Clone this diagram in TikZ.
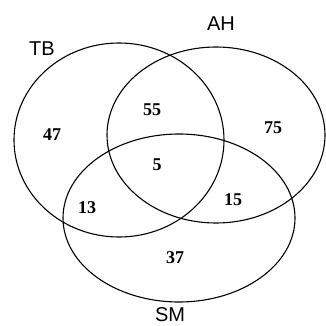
\documentclass[tikz,border=0pt]{standalone}
\usepackage{fontspec}
\setmainfont{Liberation Serif}
\setsansfont{Liberation Sans}
\usepackage{tikz}

\begin{document}
\begin{tikzpicture}[
  x=1pt, y=-1pt,
  set/.style={draw=black, line width=1.1pt},
  setname/.style={font=\sffamily\fontsize{20}{20}\selectfont, inner sep=0pt},
  count/.style={font=\bfseries\fontsize{18}{18}\selectfont, inner sep=0pt}
]
\useasboundingbox (0,0) rectangle (326,326);
% the three sets
\draw[set] (119,140) ellipse [x radius=105, y radius=97];
\draw[set] (216,135) ellipse [x radius=109, y radius=88];
\draw[set] (179,218) ellipse [x radius=116, y radius=84];
% set names
\node[setname] (tb) at (42,49) {TB};
\node[setname] (ah) at (221,24) {AH};
\node[setname] (sm) at (170,315) {SM};
% counts
\node[count] (onlytb) at (52,135) {47};
\node[count] (tbah) at (152,110) {55};
\node[count] (onlyah) at (273,128) {75};
\node[count] (all) at (157,165) {5};
\node[count] (tbsm) at (87,208) {13};
\node[count] (ahsm) at (233,200) {15};
\node[count] (onlysm) at (175,258) {37};
\end{tikzpicture}
\end{document}
